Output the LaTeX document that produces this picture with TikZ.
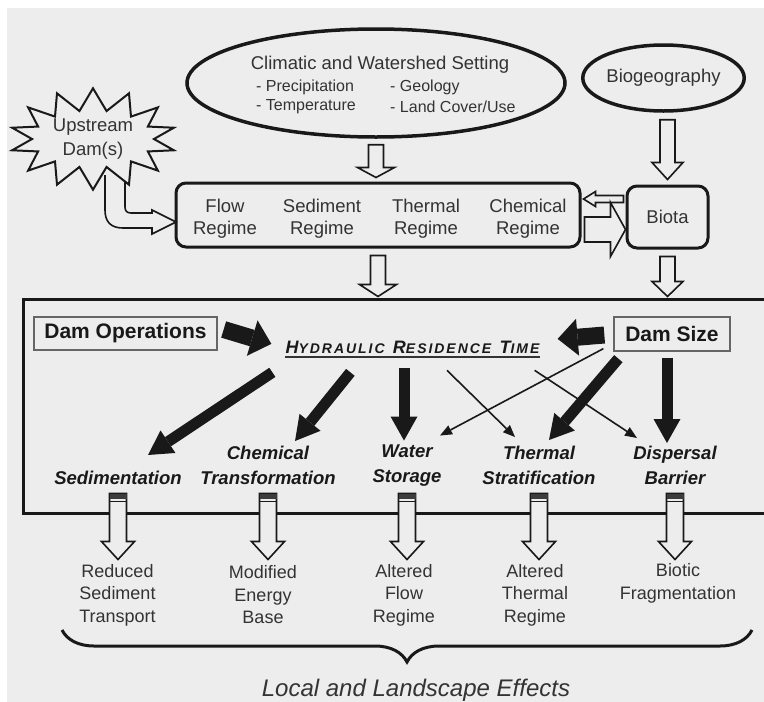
\documentclass[tikz,border=0pt]{standalone}
\usepackage{fontspec}
\setmainfont{Liberation Sans}
\newfontfamily\hrtfont{Liberation Sans}[LetterSpace=14]
\usetikzlibrary{shapes.geometric,shapes.symbols,arrows.meta,calc,decorations.pathreplacing}

\definecolor{paper}{gray}{0.93}
\definecolor{ink}{gray}{0.1}
\definecolor{txtgray}{gray}{0.2}

\newcommand{\fsz}[2]{\fontsize{#1}{#2}\selectfont}
\newcommand{\hrtword}[2]{{\fsz{18}{20}#1}{\fsz{14}{20}#2}}

\tikzset{
  txt/.style={text=txtgray, align=center, inner sep=0pt, font=\fsz{18.5}{22}},
  sub/.style={text=txtgray, inner sep=0pt, font=\fsz{16}{20}},
  oval/.style={ellipse, draw=ink, line width=3.5pt, inner sep=0pt, text=txtgray, font=\fsz{18.5}{22}},
  rbox/.style={draw=ink, line width=3pt, rounded corners=10pt, inner sep=0pt, text=txtgray, font=\fsz{18.5}{22}},
  burst/.style={starburst, starburst points=14, starburst point height=22pt, random starburst=0, draw=ink, line width=2pt, fill=paper, inner xsep=3pt, inner ysep=0pt, align=center, text=txtgray, font=\fsz{18.5}{24}},
  dambox/.style={draw=black!60, line width=1.3pt, inner sep=0pt, text=ink, font=\fsz{21}{24}\bfseries},
  effect/.style={text=ink, align=center, inner sep=0pt, font=\fsz{18.5}{25}\bfseries\itshape},
  res/.style={text=txtgray, align=center, inner sep=0pt, font=\fsz{18}{22.5}},
  openarr/.style={draw=ink, line width=1.6pt, fill=paper},
  fat/.style={draw=ink, line width=11pt, -{Triangle[length=24pt,width=27pt,line width=0pt]}},
  fatter/.style={draw=ink, line width=17pt, -{Triangle[length=20pt,width=37pt,line width=0pt]}},
  slim/.style={draw=ink, line width=1.6pt, -{Triangle[length=12pt,width=10pt,line width=0pt]}},
  opendown/.style args={#1/#2/#3}{to path={let \p1=(\tikztostart), \p2=(\tikztotarget) in
    (\x1-#1,\y1) -- (\x1-#1,\y2+#3) -- (\x1-#2,\y2+#3) -- (\x1,\y2) -- (\x1+#2,\y2+#3) -- (\x1+#1,\y2+#3) -- (\x1+#1,\y1) -- cycle}},
  openright/.style args={#1/#2/#3}{to path={let \p1=(\tikztostart), \p2=(\tikztotarget) in
    (\x1,\y1+#1) -- (\x2-#3,\y1+#1) -- (\x2-#3,\y1+#2) -- (\x2,\y1) -- (\x2-#3,\y1-#2) -- (\x2-#3,\y1-#1) -- (\x1,\y1-#1) -- cycle}},
  openleft/.style args={#1/#2/#3}{to path={let \p1=(\tikztostart), \p2=(\tikztotarget) in
    (\x1,\y1+#1) -- (\x2+#3,\y1+#1) -- (\x2+#3,\y1+#2) -- (\x2,\y1) -- (\x2+#3,\y1-#2) -- (\x2+#3,\y1-#1) -- (\x1,\y1-#1) -- cycle}},
}

\begin{document}
\begin{tikzpicture}[x=1pt,y=-1pt]
\useasboundingbox (0,0) rectangle (764,702);
\clip (0,0) rectangle (764,702);

% Sfondo
\fill[white] (0,0) rectangle (764,702);
\fill[paper] (7,8) rectangle (764,702);

% Ellissi in alto
\node[oval, minimum width=378pt, minimum height=108pt] (clim) at (376,83) {};
\node[txt] (climtitle) at (380,65) {Climatic and Watershed Setting};
\node[sub, anchor=west] (prec) at (256,87) {- Precipitation};
\node[sub, anchor=west] (temp) at (256,107) {- Temperature};
\node[sub, anchor=west] (geol) at (390,87) {- Geology};
\node[sub, anchor=west] (land) at (390,107) {- Land Cover/Use};
\node[oval, minimum width=157pt, minimum height=66pt] (bio) at (663.5,78) {Biogeography};

% Regimi e biota
\node[rbox, minimum width=404pt, minimum height=64pt] (reg) at (378,215) {};
\node[txt] (flow) at (225,219) {Flow\\Regime};
\node[txt] (sedreg) at (322,219) {Sediment\\Regime};
\node[txt] (thermreg) at (426,219) {Thermal\\Regime};
\node[txt] (chemreg) at (528,219) {Chemical\\Regime};
\node[rbox, minimum width=81pt, minimum height=62pt] (biota) at (667.5,217) {Biota};

% Diga a monte
\draw[openarr] (105,175) -- (105,210) .. controls (105,222) and (111,228) .. (123,228) -- (152,228) -- (152,234) -- (176,222) -- (152,210) -- (152,213) -- (131,213) .. controls (127,213) and (125,211) .. (125,207) -- (125,175);
\node[burst] (up) at (93,139) {Upstream\\Dam(s)};

% Riquadro centrale
\node[draw=ink, line width=3pt, minimum width=777pt, minimum height=214pt, inner sep=0pt] (frame) at (411.5,406) {};

% Frecce vuote
\draw[openarr, opendown=7.5pt/18.5pt/10pt] ($(clim.south)+(0,6)$) to ($(clim.south |- reg.north)+(0,-4)$);
\draw[openarr, opendown=7.5pt/15.5pt/17pt] ($(biota.north |- bio.south)+(0,7)$) to ($(biota.north)+(0,-5)$);
\draw[openarr, opendown=7.5pt/18.5pt/12pt] ($(reg.south)+(0,7)$) to ($(reg.south |- frame.north)+(0,-1)$);
\draw[openarr, opendown=7.5pt/15.5pt/15pt] ($(biota.south)+(0,7)$) to ($(biota.south |- frame.north)+(0,-1)$);
\draw[openarr, openleft=3.5pt/7.5pt/12pt] ($(biota.west)+(-2,-18)$) to ($(reg.east)+(2,-16)$);
\draw[openarr, openright=12.5pt/27pt/15pt] ($(reg.east)+(3,14.5)$) to ($(biota.west)+(0,12.5)$);

% Dentro il riquadro
\node[dambox, minimum width=183pt, minimum height=33pt] (ops) at (125.5,333.5) {Dam Operations};
\node[dambox, minimum width=116pt, minimum height=34pt] (size) at (672,334) {Dam Size};
\node[text=ink, inner sep=0pt, anchor=base, font=\hrtfont\bfseries\itshape] (hrt) at (412.5,353) {\hrtword{H}{YDRAULIC}\ \ \hrtword{R}{ESIDENCE}\ \ \hrtword{T}{IME}};
\draw[txtgray, line width=1.2pt] ([yshift=-4pt]hrt.base west) -- ([yshift=-4pt]hrt.base east);

\node[effect] (sedim) at (118,478) {Sedimentation};
\node[effect] (chemt) at (268,465.5) {Chemical\\Transformation};
\node[effect] (water) at (407,465.5) {Water\\Storage};
\node[effect] (therm2) at (539,465.5) {Thermal\\Stratification};
\node[effect] (disp) at (675,465.5) {Dispersal\\Barrier};

% Frecce nere
\draw[fatter] ($(ops.east)+(6,-4)$) -- ($(hrt.west)+(-14,-3)$);
\draw[fatter] ($(size.west)+(-9,1)$) -- ($(hrt.east)+(18,-8)$);
\draw[fat] ($(hrt.south west)+(-13,19)$) -- ($(sedim.north)+(30,-16)$);
\draw[fat] ($(hrt.south west)+(65,19)$) -- ($(chemt.north)+(27,-5)$);
\draw[fat] ($(water.north |- hrt.south)+(-3,15)$) -- ($(water.north)+(-3,-4)$);
\draw[fat] ($(size.south west)+(5,7)$) -- ($(therm2.north)+(10,-6)$);
\draw[fat] ($(size.south)+(-5,6)$) -- ($(size.south |- disp.north)+(-5,-3)$);

% Frecce sottili
\draw[slim] ($(hrt.south)+(34.5,17)$) -- ($(therm2.north)+(-24,-9)$);
\draw[slim] ($(hrt.south east)+(-5,17)$) -- ($(disp.north)+(-38,-8)$);
\draw[slim] ($(size.south west)+(-10,-3)$) -- ($(water.north)+(33,-9)$);

% Effetti
\foreach \eff in {sedim,chemt,water,therm2,disp}{
  \draw[openarr, opendown=8.5pt/16.5pt/18pt] ($(\eff.south |- frame.south)+(0,-21)$) to ($(\eff.south |- frame.south)+(0,45)$);
  \fill[ink!85] ($(\eff.south |- frame.south)+(-8.5,-21)$) rectangle ++(17,5);
  \draw[ink, line width=0.8pt] ($(\eff.south |- frame.south)+(-8.5,-13)$) -- ++(17,0);
}
\node[res] (r1) at (117.5,595) {Reduced\\Sediment\\Transport};
\node[res] (r2) at (263,595) {Modified\\Energy\\Base};
\node[res] (r3) at (404,595) {Altered\\Flow\\Regime};
\node[res] (r4) at (535,595) {Altered\\Thermal\\Regime};
\node[res] (r5) at (678,583.5) {Biotic\\Fragmentation};

% Graffa
\draw[ink, line width=3pt, decorate, decoration={brace, mirror, amplitude=32pt}] (62,630) -- (752,630);
\node[text=txtgray, inner sep=0pt, font=\fsz{24}{28}\itshape] (effects) at (416,690) {Local and Landscape Effects};
\end{tikzpicture}
\end{document}
